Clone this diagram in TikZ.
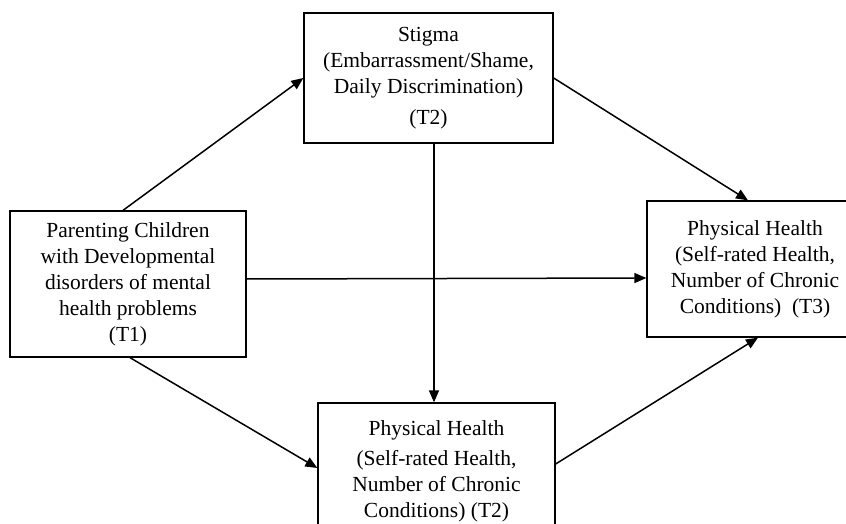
\documentclass[tikz,border=0pt]{standalone}
\usepackage{fontspec}
\setmainfont{Liberation Serif}
\usepackage{tikz}
\usetikzlibrary{arrows.meta}

\begin{document}
\begin{tikzpicture}[x=1pt, y=-1pt,
  box/.style={rectangle, draw=black, line width=1.3pt,
    align=center, inner sep=2pt,
    font=\fontsize{21.5}{26}\selectfont},
  %
  path/.style={draw=black, line width=1.5pt,
    -{Triangle[length=12pt, width=10pt]}}
  ]

  \useasboundingbox (0,0) rectangle (846,524);

  %%%%%%%%%%%%%%%%%%%%%%%%%%%%%%%
  \node [box, minimum width=249, minimum height=130] (stigma) at (428.5,78)
  {Stigma\\(Embarrassment/Shame,\\Daily Discrimination)\\[5pt](T2)};
  %
  \node [box, minimum width=236, minimum height=146] (parent) at (128,284)
  {Parenting Children\\with Developmental\\disorders of mental\\health problems\\(T1)};
  %
  \node [box, minimum width=216, minimum height=136] (health3) at (755,269)
  {Physical Health\\(Self-rated Health,\\Number of Chronic\\Conditions)~~(T3)};
  %
  \node [box, minimum width=237, minimum height=136] (health2) at (436.5,471)
  {Physical Health\\[4pt](Self-rated Health,\\Number of Chronic\\Conditions) (T2)};
  %%%%%%%%%%%%%%%%%%%%%%%%%%%%%%%

  \draw [path] ([xshift=-5pt]parent.north) -- (stigma.west);
  \draw [path] (stigma.east) -- ([xshift=-7pt]health3.north);
  \draw [path] ([xshift=5.5pt]stigma.south) -- ([xshift=-2.5pt]health2.north);
  \draw [path] ([yshift=5pt]parent.east) -- ([yshift=-9pt]health3.west);
  \draw [path] ([xshift=2pt]parent.south) -- ([yshift=3pt]health2.west);
  \draw [path] ([yshift=7pt]health2.east) -- ([xshift=3pt]health3.south);

\end{tikzpicture}
\end{document}
